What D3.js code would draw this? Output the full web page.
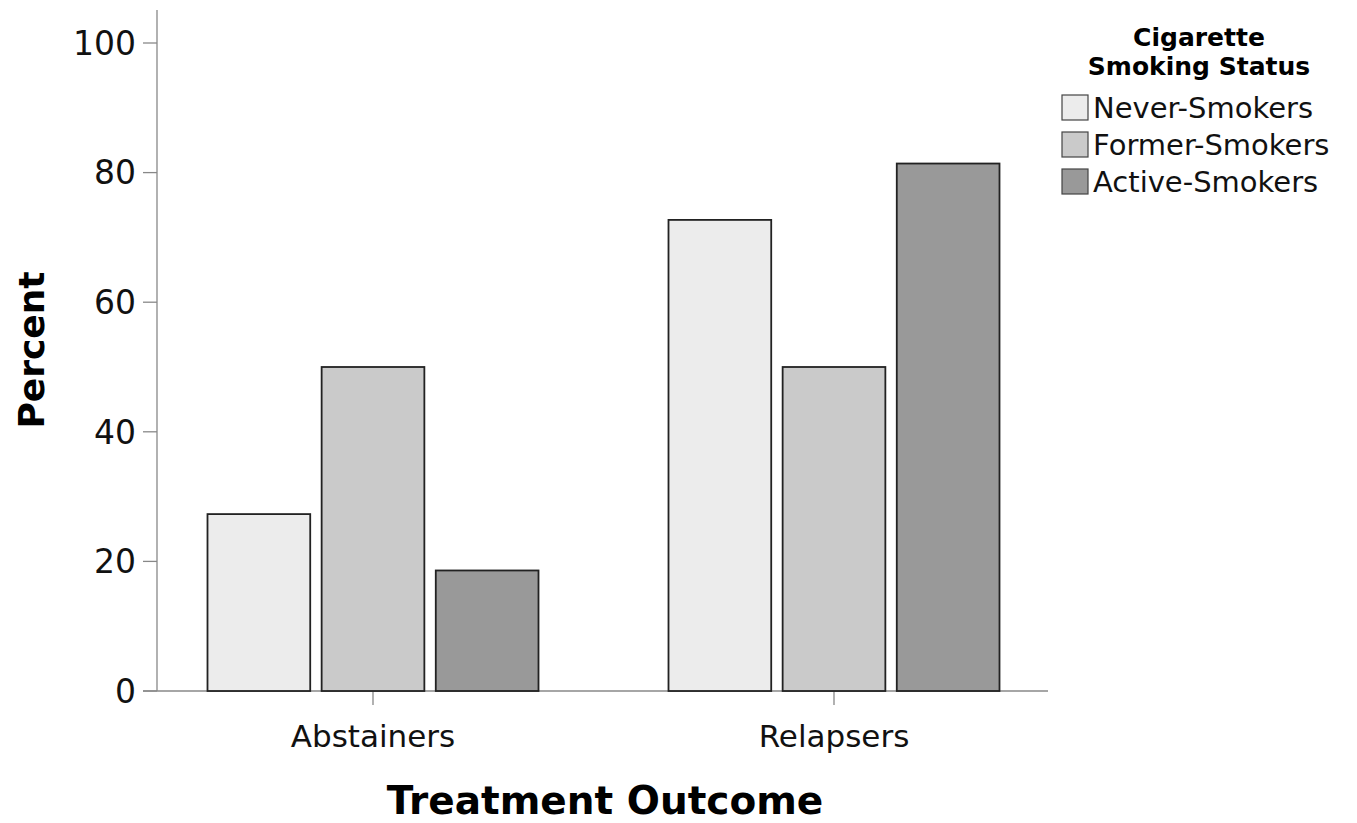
<!DOCTYPE html>
<html><head><meta charset="utf-8">
<script src="https://cdn.jsdelivr.net/npm/d3@7"></script>
<style>body{margin:0;background:#fff}svg{display:block}text{font-family:"DejaVu Sans",sans-serif}</style>
</head><body>
<script>
const categories = ["Abstainers", "Relapsers"];
const seriesNames = ["Never-Smokers", "Former-Smokers", "Active-Smokers"];
const neverSmokers = [27.3, 72.7];
const formerSmokers = [50.0, 50.0];
const activeSmokers = [18.6, 81.4];
const yTicks = [0, 20, 40, 60, 80, 100];
const colors = ["#ececec", "#cacaca", "#999999"];

const W = 1357, H = 823;
const svg = d3.select("body").append("svg").attr("width", W).attr("height", H);

const y = d3.scaleLinear().domain([0, 100]).range([691, 43]);
const x0 = d3.scaleBand().domain(categories).range([142.5, 1064.5]).padding(0);
const x1 = d3.scaleBand().domain(seriesNames).range([-165.5, 165.5]).paddingInner(0.1);

const values = [neverSmokers, formerSmokers, activeSmokers];
const data = [];
categories.forEach((c, i) => seriesNames.forEach((s, j) => data.push({c, s, v: values[j][i], j})));

// axes lines
svg.append("line").attr("x1", 157).attr("x2", 157).attr("y1", 10).attr("y2", 691).attr("stroke", "#888").attr("stroke-width", 1.3);
svg.append("line").attr("x1", 143).attr("x2", 1048).attr("y1", y(0)).attr("y2", y(0)).attr("stroke", "#888").attr("stroke-width", 1.3);

// y ticks
const yt = svg.append("g");
yTicks.forEach(t => {
  yt.append("line").attr("x1", 143).attr("x2", 157).attr("y1", y(t)).attr("y2", y(t)).attr("stroke", "#888").attr("stroke-width", 1.3);
  yt.append("text").attr("x", 136).attr("y", y(t)).attr("dy", "0.36em").attr("text-anchor", "end")
    .attr("font-size", 33).attr("fill", "#111").text(t);
});

// x ticks
categories.forEach(c => {
  const cx = x0(c) + x0.bandwidth() / 2;
  svg.append("line").attr("x1", cx).attr("x2", cx).attr("y1", 691).attr("y2", 705).attr("stroke", "#888").attr("stroke-width", 1.3);
  svg.append("text").attr("x", cx).attr("y", 747).attr("text-anchor", "middle").attr("font-size", 31).attr("fill", "#111").text(c);
});

// bars
svg.append("g").selectAll("rect").data(data).join("rect")
  .attr("x", d => x0(d.c) + x0.bandwidth() / 2 + x1(d.s))
  .attr("width", x1.bandwidth())
  .attr("y", d => y(d.v))
  .attr("height", d => y(0) - y(d.v))
  .attr("fill", d => colors[d.j])
  .attr("stroke", "#222").attr("stroke-width", 1.8);

// axis titles
svg.append("text").attr("transform", "translate(44,350) rotate(-90)").attr("text-anchor", "middle")
  .attr("font-size", 36).attr("font-weight", "bold").attr("fill", "#000").text("Percent");
svg.append("text").attr("x", 605).attr("y", 814).attr("text-anchor", "middle")
  .attr("font-size", 39).attr("font-weight", "bold").attr("fill", "#000").text("Treatment Outcome");

// legend
const lg = svg.append("g");
lg.append("text").attr("x", 1199).attr("y", 46).attr("text-anchor", "middle").attr("font-size", 25).attr("font-weight", "bold").text("Cigarette");
lg.append("text").attr("x", 1199).attr("y", 75).attr("text-anchor", "middle").attr("font-size", 25).attr("font-weight", "bold").text("Smoking Status");
seriesNames.forEach((s, i) => {
  const yy = 95 + i * 37;
  lg.append("rect").attr("x", 1062).attr("y", yy).attr("width", 26).attr("height", 25)
    .attr("fill", colors[i]).attr("stroke", "#444").attr("stroke-width", 1.2);
  lg.append("text").attr("x", 1093).attr("y", yy + 12.5).attr("dy", "0.36em").attr("font-size", 29).attr("fill", "#111").text(s);
});
</script>
</body></html>
